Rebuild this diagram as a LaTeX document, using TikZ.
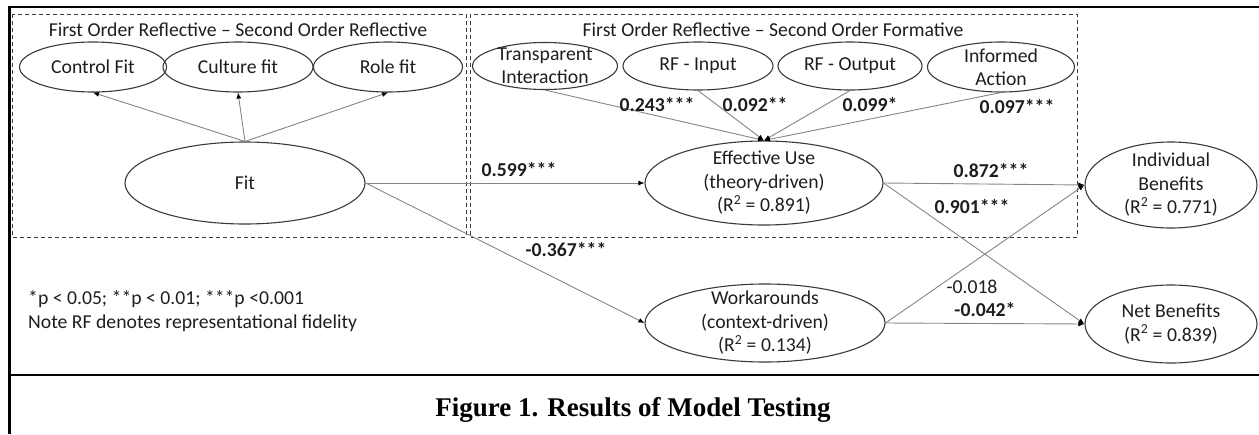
\documentclass[tikz,border=0pt]{standalone}
\usepackage{fontspec}
\setmainfont{Carlito}
\newfontfamily\capfont{Liberation Serif}
\usetikzlibrary{arrows.meta,shapes.geometric}

\definecolor{ink}{HTML}{1E1E1E}
\definecolor{rim}{HTML}{3A3A3A}
\definecolor{conn}{HTML}{858585}

\begin{document}
\begin{tikzpicture}[x=1pt,y=-1pt,
  every node/.style={font=\fontsize{19.7}{23.5}\selectfont, text=ink},
  ell/.style={draw=rim, line width=1.1pt, ellipse, inner sep=0pt},
  txt/.style={align=center, inner sep=0pt},
  coef/.style={font=\fontsize{19.7}{23.5}\selectfont\bfseries, inner sep=0pt},
  plain/.style={font=\fontsize{19.7}{23.5}\selectfont, inner sep=0pt},
  link/.style={draw=conn, line width=0.9pt, -{Latex[length=6pt,width=5pt,color=black]}},
  grp/.style={draw=rim, line width=0.9pt, dash pattern=on 4pt off 3pt},
  frame/.style={line width=2.2pt, draw=black}]

\useasboundingbox (0,0) rectangle (1259,434);

% outer frame and caption separator
\draw[frame] (1259,7) -- (9.5,7) -- (9.5,434);
\draw[frame] (9.5,375) -- (1259,375);

% construct groups
\draw[grp] (12,14) rectangle (466,237);
\draw[grp] (470,14) rectangle (1077,237);
\node[plain] (g1) at (238,30) {First Order Reflective – Second Order Reflective};
\node[plain] (g2) at (773,30) {First Order Reflective – Second Order Formative};

% reflective indicators of Fit
\node[ell, minimum width=147pt, minimum height=50pt] (ctrl) at (93,67) {Control Fit};
\node[ell, minimum width=150pt, minimum height=50pt] (cult) at (238,67) {Culture fit};
\node[ell, minimum width=149pt, minimum height=50pt] (role) at (388,67) {Role fit};

% formative indicators of Effective Use
\node[ell, minimum width=145pt, minimum height=47pt] (ti) at (545,66) {};
\node[txt] (ti-t) at (ti) {Transparent\\Interaction};
\node[ell, minimum width=150pt, minimum height=48pt] (rfi) at (698,66) {RF - Input};
\node[ell, minimum width=144pt, minimum height=48pt] (rfo) at (850,66) {RF - Output};
\node[ell, minimum width=147pt, minimum height=50pt] (ia) at (1001,67) {};
\node[txt] (ia-t) at (ia) {Informed\\Action};

% latent constructs
\node[ell, minimum width=240pt, minimum height=82pt] (fit) at (245,183) {Fit};
\node[ell, minimum width=238pt, minimum height=84pt] (eu) at (764,183) {};
\node[txt] (eu-t) at (eu) {Effective Use\\(theory-driven)\\(R\textsuperscript{2} = 0.891)};
\node[ell, minimum width=172pt, minimum height=86pt] (ib) at (1171,185) {};
\node[txt] (ib-t) at (ib) {Individual\\Benefits\\(R\textsuperscript{2} = 0.771)};
\node[ell, minimum width=240pt, minimum height=78pt] (wa) at (765,323) {};
\node[txt] (wa-t) at (wa) {Workarounds\\(context-driven)\\(R\textsuperscript{2} = 0.134)};
\node[ell, minimum width=172pt, minimum height=78pt] (nb) at (1171,324) {};
\node[txt] (nb-t) at (nb) {Net Benefits\\(R\textsuperscript{2} = 0.839)};

% paths
\draw[link] (fit.north) -- (ctrl.south);
\draw[link] (fit.north) -- (cult.south);
\draw[link] (fit.north) -- (role.south);
\draw[link] (ti.south) -- (eu.north);
\draw[link] (rfi.south) -- (eu.north);
\draw[link] (rfo.south) -- (eu.north);
\draw[link] (ia.south) -- (eu.north);
\draw[link] (fit.east) -- (eu.west);
\draw[link] (fit.east) -- (wa.west);
\draw[link] (eu.east) -- (ib.west);
\draw[link] (eu.east) -- (nb.west);
\draw[link] (wa.east) -- (ib.west);
\draw[link] (wa.east) -- (nb.west);

% path coefficients
\node[coef] (c1) at (657,105) {0.243***};
\node[coef] (c2) at (755,105) {0.092**};
\node[coef] (c3) at (870,105) {0.099*};
\node[coef] (c4) at (1017,107) {0.097***};
\node[coef] (c5) at (519,170) {0.599***};
\node[coef] (c6) at (991,171) {0.872***};
\node[coef] (c7) at (972,207) {0.901***};
\node[coef] (c8) at (566,250) {-0.367***};
\node[plain] (c9) at (972,287) {-0.018};
\node[coef] (c10) at (985,310) {-0.042*};

% significance note
\node[plain, anchor=west, align=left] (note) at (28,311) {*p < 0.05; **p < 0.01; ***p <0.001\\Note RF denotes representational fidelity};

% caption
\node[font={\capfont\bfseries\fontsize{27}{30}\selectfont}, text=black, anchor=base, inner sep=0pt] (cap) at (633,416) {Figure 1. Results of Model Testing};
\end{tikzpicture}
\end{document}
